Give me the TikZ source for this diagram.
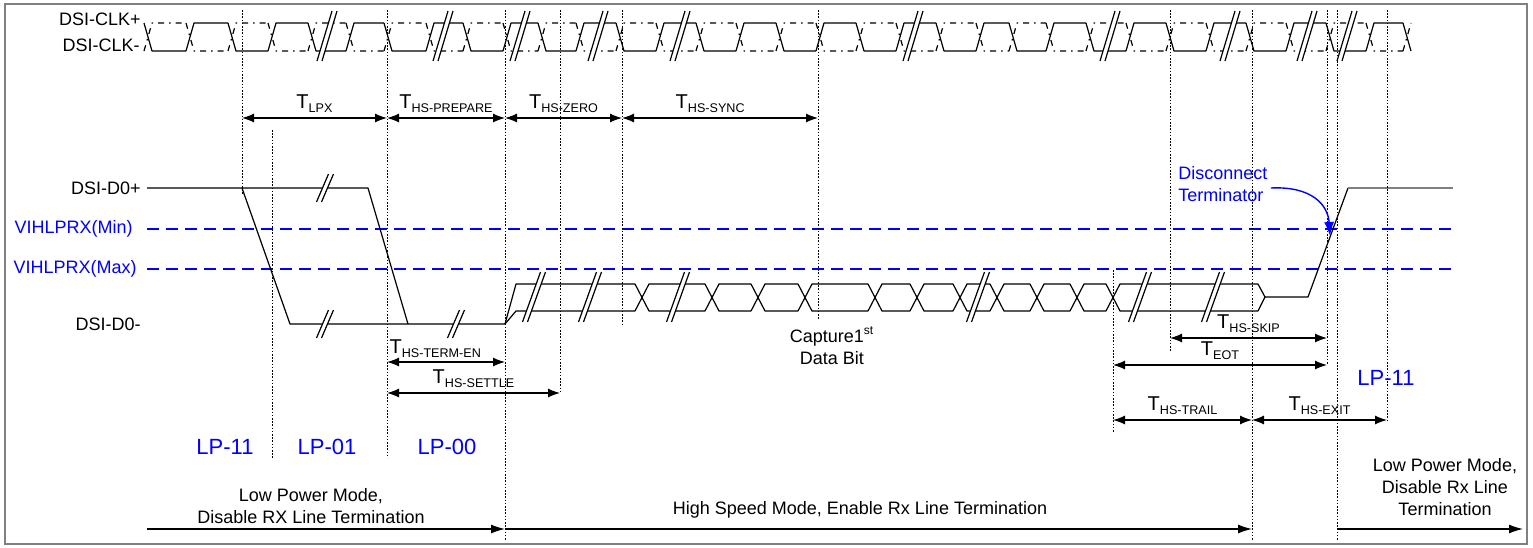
\documentclass[tikz,border=0pt]{standalone}
\usepackage{fontspec}
\setmainfont{Liberation Sans}
\usetikzlibrary{arrows.meta}
\newcommand\tsub[1]{T\raisebox{-0.35ex}{\fontsize{6.3}{7}\selectfont #1}}

\begin{document}
\begin{tikzpicture}[x=0.5pt,y=-0.5pt,
    every node/.style={font=\fontsize{9}{11}\selectfont, inner sep=0pt},
    sig/.style={line width=0.6pt, line join=round},
    dd/.style={dash pattern=on 3pt off 2.5pt on 0.8pt off 2.5pt},
    vline/.style={line width=0.5pt, dash pattern=on 0.8pt off 0.8pt},
    lvl/.style={blue, line width=0.6pt, dash pattern=on 6pt off 3.5pt},
    dimarrow/.style={line width=0.6pt, {Latex[length=6pt,width=4.5pt]}-{Latex[length=6pt,width=4.5pt]}},
    modearrow/.style={line width=0.6pt, -{Latex[length=7pt,width=4.5pt]}},
    tlabel/.style={font=\fontsize{10}{12}\selectfont},
    lp/.style={blue, font=\fontsize{11}{13}\selectfont}]
  \useasboundingbox (0,0) rectangle (1533,547);
  \draw[gray, line width=1pt] (5,4) rectangle (1527,544);

  % signal names
  \node[anchor=east] (clkp) at (141,19) {DSI-CLK+};
  \node[anchor=east] (clkm) at (140,45) {DSI-CLK-};
  \node[anchor=east] (dp) at (141,188) {DSI-D0+};
  \node[anchor=east] (dm) at (141,324) {DSI-D0-};
  \node[anchor=east, blue] (vmin) at (133,229) {VIHLPRX(Min)};
  \node[anchor=east, blue] (vmax) at (137,269) {VIHLPRX(Max)};

  % clock
  \foreach \a/\b [count=\k] in {148/190,190/232,232/272,272/312,312/350,350/388,
      388/430,430/467,467/507,507/542,542/580,580/620,620/660,660/700,700/740,
      740/780,780/820,820/860,860/900,900/940,940/980,980/1013,1013/1050,
      1050/1090,1090/1130,1130/1170,1170/1210,1210/1250,1250/1290,1290/1330,
      1330/1370,1370/1407,1407/1415} {
    \ifodd\k\relax
      \draw[sig] (\a-4,23) -- (\a+4,51) -- (\b-4,51);
      \draw[sig,dd] (\a-4,51) -- (\a+4,23) -- (\b-4,23);
    \else
      \draw[sig] (\a-4,51) -- (\a+4,23) -- (\b-4,23);
      \draw[sig,dd] (\a-4,23) -- (\a+4,51) -- (\b-4,51);
    \fi
  }
  \foreach \c in {327,443,520,598,680,913,1110,1230,1307,1347} {
    \fill[white] (\c-10,61) -- (\c+5,11) -- (\c+10,11) -- (\c-5,61) -- cycle;
    \draw[sig] (\c-10,61) -- (\c+5,11) (\c-5,61) -- (\c+10,11);
  }

  % levels
  \draw[lvl] (147,229) -- (1453,229);
  \draw[lvl] (147,269) -- (1453,269);

  % data lane
  \draw[sig] (147,188) -- (368,188) -- (408,324);
  \draw[sig] (242,188) -- (290,324) -- (505,324);
  \draw[sig] (505,324) -- (516,284) -- (635,284);
  \draw[sig] (505,324) -- (516,311) -- (635,311);
  \foreach \a/\b in {642/712,712/758,758/805,805/875,875/917,917/960,
      960/997,997/1037,1037/1077,1077/1113,1113/1265} {
    \draw[sig] (\a-7,284) -- (\a+7,311) -- (\b-7,311);
    \draw[sig] (\a-7,311) -- (\a+7,284) -- (\b-7,284);
  }
  \draw[sig] (1258,284) -- (1265,297) -- (1258,311);
  \draw[sig] (1265,297) -- (1308,297) -- (1348,188);
  \draw[sig, gray] (1348,188) -- (1453,188);
  \foreach \c/\y/\h/\w in {325/188/14/6,325/324/14/6,456/324/14/6,
      534/297/25/9,590/297/25/9,678/297/25/9,978/297/25/9,1140/297/25/9,1213/297/25/9} {
    \fill[white] (\c-\w-2.5,\y+\h) -- (\c+\w-2.5,\y-\h) -- (\c+\w+2.5,\y-\h) -- (\c-\w+2.5,\y+\h) -- cycle;
    \draw[sig] (\c-\w-2.5,\y+\h) -- (\c+\w-2.5,\y-\h) (\c-\w+2.5,\y+\h) -- (\c+\w+2.5,\y-\h);
  }

  % time markers
  \foreach \n/\x/\ya/\yb in {a/242/10/195,b/272/130/458,c/387/10/458,d/505/10/541,
      e/560/10/393,f/622/10/325,g/818/10/320,h/1113/270/433,i/1170/10/352,
      j/1252/10/541,k/1327/10/365,l/1337/10/541,m/1387/10/420} {
    \coordinate (\n) at (\x,\ya);
    \draw[vline] (\n) -- (\x,\yb);
  }

  % intervals
  \draw[dimarrow] (a |- 0,118) -- (c |- 0,118) node[midway, above=2.5pt, tlabel] (lpx) {\tsub{LPX}};
  \draw[dimarrow] (c |- 0,118) -- (d |- 0,118) node[midway, above=2.5pt, tlabel] (prep) {\tsub{HS-PREPARE}};
  \draw[dimarrow] (d |- 0,118) -- (f |- 0,118) node[midway, above=2.5pt, tlabel] (zero) {\tsub{HS-ZERO}};
  \draw[dimarrow] (f |- 0,118) -- (g |- 0,118) node[pos=0.45, above=2.5pt, tlabel] (sync) {\tsub{HS-SYNC}};
  \draw[dimarrow] (c |- 0,362) -- (d |- 0,362) node[pos=0, anchor=south west, xshift=1pt, yshift=2pt, tlabel] (termen) {\tsub{HS-TERM-EN}};
  \draw[dimarrow] (c |- 0,393) -- (e |- 0,393) node[midway, above=2.5pt, tlabel] (settle) {\tsub{HS-SETTLE}};
  \draw[dimarrow] (i |- 0,338) -- (k |- 0,338) node[midway, above=2.5pt, tlabel] (skip) {\tsub{HS-SKIP}};
  \draw[dimarrow] (h |- 0,365) -- (k |- 0,365) node[midway, above=2.5pt, tlabel] (eot) {\tsub{EOT}};
  \draw[dimarrow] (h |- 0,420) -- (j |- 0,420) node[midway, above=2.5pt, tlabel] (trail) {\tsub{HS-TRAIL}};
  \draw[dimarrow] (j |- 0,420) -- (m |- 0,420) node[midway, above=2.5pt, tlabel] (exit) {\tsub{HS-EXIT}};

  \node[align=center] (capture) at (832,346) {Capture1\textsuperscript{st}\\Data Bit};

  % line states
  \node[lp] (lp11) at (225,447) {LP-11};
  \node[lp] (lp01) at (327,447) {LP-01};
  \node[lp] (lp00) at (447,447) {LP-00};
  \node[lp] (lp11b) at (1386,378) {LP-11};

  % terminator
  \node[blue, align=left, anchor=west] (disc) at (1178,184) {Disconnect\\Terminator};
  \coordinate (dterm) at (1330,236);
  \draw[blue, line width=0.7pt, -{Latex[length=7pt,width=5pt]}] ([xshift=1.5pt,yshift=-2pt]disc.east)
    .. controls (1312,186) and (1328,205) .. (dterm);

  % modes
  \coordinate (lpl) at (147,529);
  \coordinate (lpr) at (1523,529);
  \draw[modearrow] (lpl) -- (d |- lpl);
  \draw[modearrow] (d |- lpl) -- (j |- lpl);
  \draw[modearrow] (l |- lpr) -- (lpr);
  \node[align=center] (lpmode) at (311,506) {Low Power Mode,\\Disable RX Line Termination};
  \node (hsmode) at (860,510) {High Speed Mode, Enable Rx Line Termination};
  \node[align=center] (lpmode2) at (1445,487) {Low Power Mode,\\Disable Rx Line\\Termination};
\end{tikzpicture}
\end{document}
